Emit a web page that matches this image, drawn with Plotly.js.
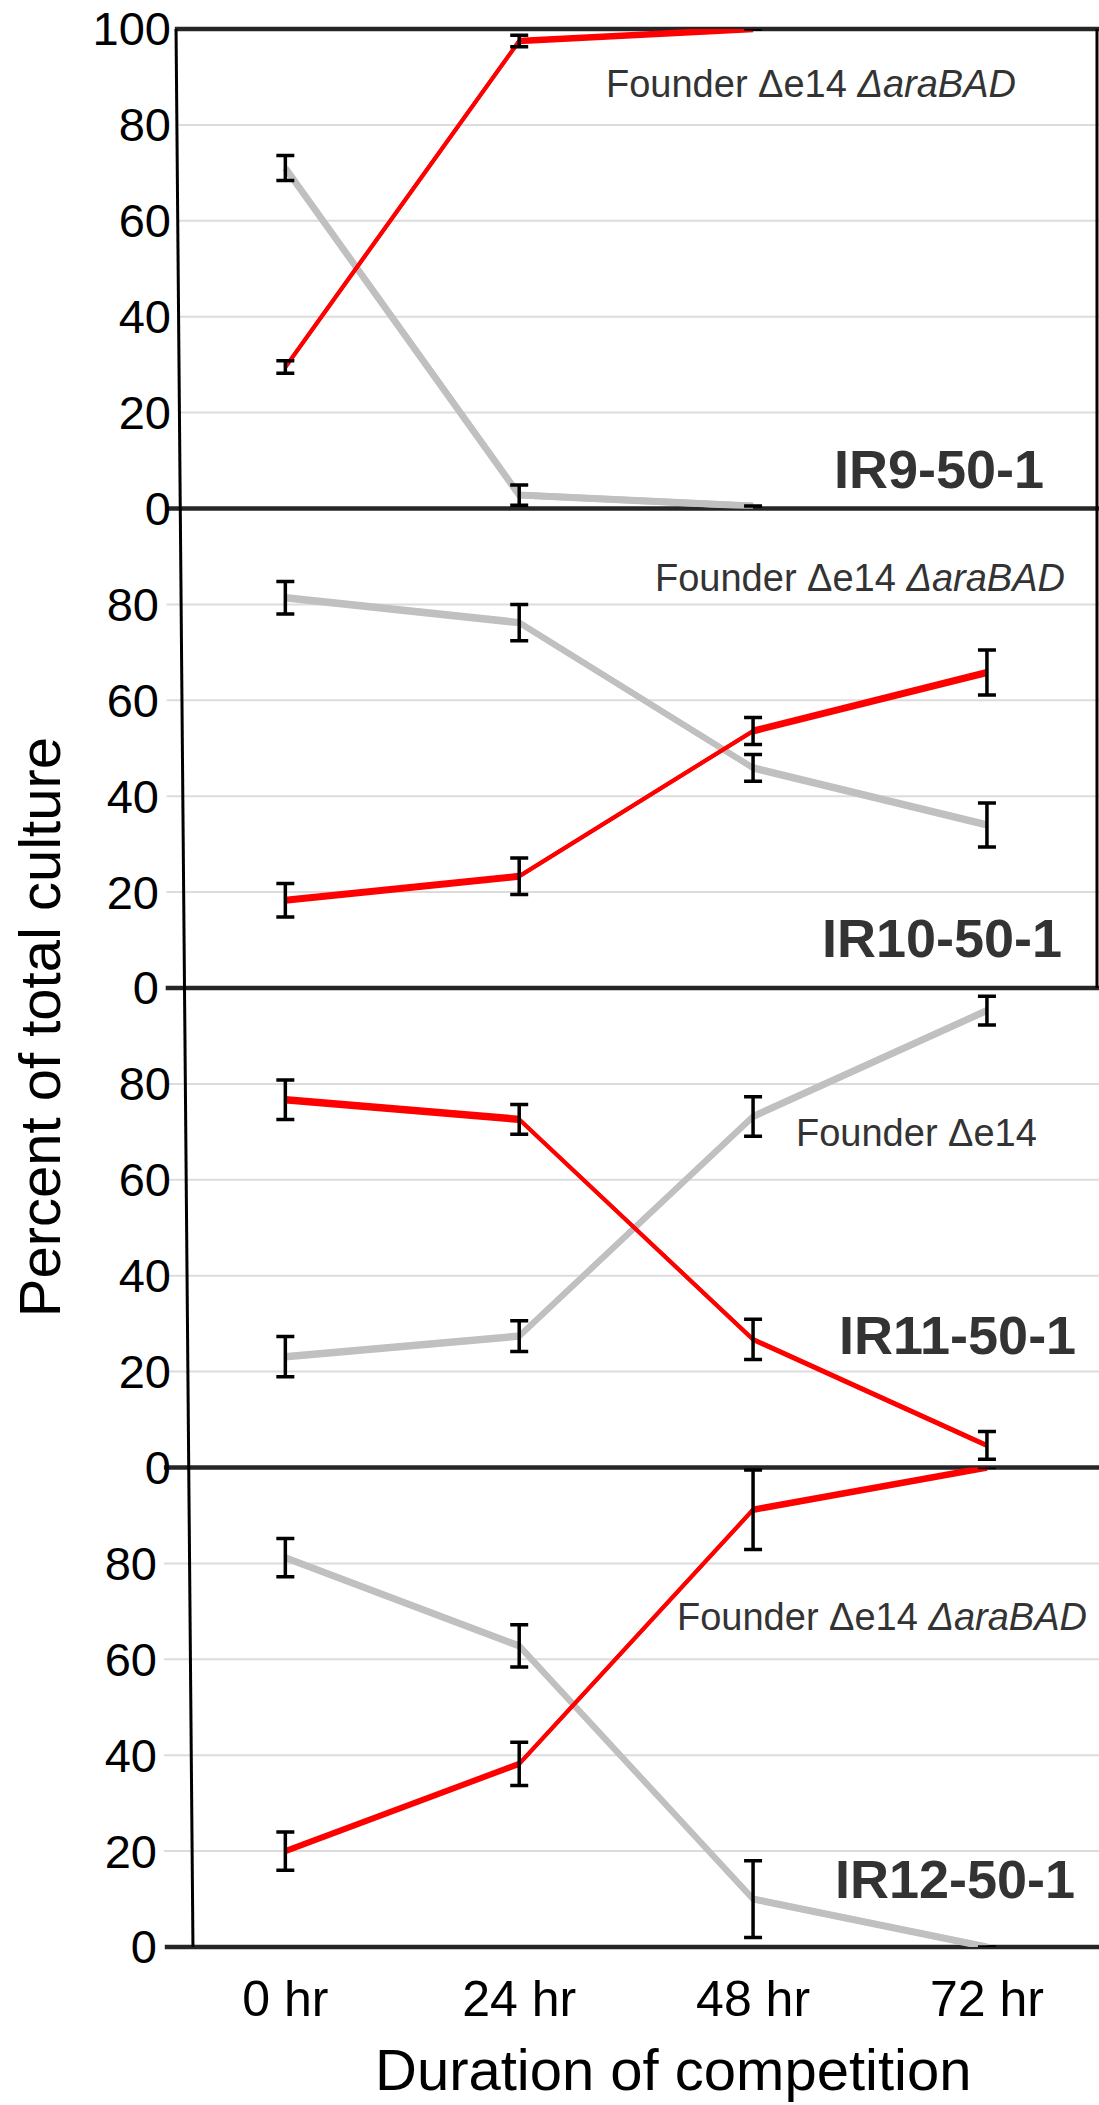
<!DOCTYPE html>
<html>
<head>
<meta charset="utf-8">
<script src="https://cdn.plot.ly/plotly-3.0.1.min.js"></script>
<style>html,body{margin:0;padding:0;background:#fff;}#chart{width:1099px;height:2105px;}</style>
</head>
<body>
<div id="chart"></div>
<script>
// ---- data ----
const times = [0, 24, 48, 72];
const timeLabels = ['0 hr', '24 hr', '48 hr', '72 hr'];
const panelNames = ['IR9-50-1', 'IR10-50-1', 'IR11-50-1', 'IR12-50-1'];
const founderLabels = ['Founder Δe14 <i>ΔaraBAD</i>', 'Founder Δe14 <i>ΔaraBAD</i>', 'Founder Δe14', 'Founder Δe14 <i>ΔaraBAD</i>'];

// evolved strain (red)
const ir9Red = [29.5, 97.5, 100, null];
const ir9RedErr = [1.3, 1.2, null, null];
const ir10Red = [18.3, 23.3, 53.6, 65.8];
const ir10RedErr = [3.5, 3.8, 2.8, 4.7];
const ir11Red = [76.7, 72.6, 26.7, 4.6];
const ir11RedErr = [4.1, 3.1, 4.2, 2.9];
const ir12Red = [20.0, 38.2, 91.2, 100];
const ir12RedErr = [4.0, 4.5, 8.3, null];

// founder (grey)
const ir9Grey = [71.0, 2.8, 0.5, null];
const ir9GreyErr = [2.6, 2.1, null, null];
const ir10Grey = [81.4, 76.2, 45.9, 34.0];
const ir10GreyErr = [3.4, 3.8, 2.8, 4.6];
const ir11Grey = [23.1, 27.4, 73.2, 95.3];
const ir11GreyErr = [4.2, 3.2, 4.1, 3.0];
const ir12Grey = [81.2, 62.8, 10.0, 0];
const ir12GreyErr = [4.0, 4.4, 8.0, null];

const yTicksTop = [0, 20, 40, 60, 80, 100];
const yTicks = [0, 20, 40, 60, 80];
const gridVals = [20, 40, 60, 80];

// ---- styles ----
const FONT = 'Liberation Sans, Arial, Helvetica, sans-serif';
// stroke width of each line segment (the source image draws flat segments thicker)
const redSegWidth = [[4, 6.5], [7, 4, 7], [7.5, 4, 5], [6, 4, 6.5]];
const greySegWidth = [[6.5, 7], [7.5, 6, 7.5], [7.5, 6, 7], [7, 6, 7]];

// ---- build ----
const reds = [ir9Red, ir10Red, ir11Red, ir12Red];
const redErrs = [ir9RedErr, ir10RedErr, ir11RedErr, ir12RedErr];
const greys = [ir9Grey, ir10Grey, ir11Grey, ir12Grey];
const greyErrs = [ir9GreyErr, ir10GreyErr, ir11GreyErr, ir12GreyErr];
const yIds = ['y', 'y2', 'y3', 'y4'];

function segmentTraces(vals, widths, color, yId) {
  const out = [];
  // base line with the thinnest width so the joins stay continuous
  out.push({x: times, y: vals, xaxis: 'x', yaxis: yId, mode: 'lines',
    line: {color: color, width: Math.min(...widths)}, hoverinfo: 'skip'});
  for (let k = 0; k < widths.length; k++) {
    out.push({x: times.slice(k, k + 2), y: vals.slice(k, k + 2), xaxis: 'x', yaxis: yId, mode: 'lines',
      line: {color: color, width: widths[k]}, hoverinfo: 'skip'});
  }
  return out;
}

const traces = [];
for (let i = 0; i < 4; i++) {
  traces.push(...segmentTraces(greys[i], greySegWidth[i], '#c0c0c0', yIds[i]));
  traces.push(...segmentTraces(reds[i], redSegWidth[i], '#ff0000', yIds[i]));
}
for (let i = 0; i < 4; i++) {
  [[greys[i], greyErrs[i]], [reds[i], redErrs[i]]].forEach(([vals, errs]) => {
    traces.push({x: times, y: vals, xaxis: 'x', yaxis: yIds[i], mode: 'markers',
      marker: {size: 1, color: 'rgba(0,0,0,0)'}, hoverinfo: 'skip',
      error_y: {type: 'data', array: errs, visible: true, color: '#000', thickness: 3.5, width: 9}});
  });
}

const domains = [[0.75, 1], [0.5, 0.75], [0.25, 0.5], [0, 0.25]];
const standoffs = [12, 24, 12, 26];
const layout = {
  width: 1099, height: 2105,
  margin: {l: 184, r: 0, t: 29, b: 158},
  paper_bgcolor: '#fff', plot_bgcolor: 'rgba(0,0,0,0)',
  showlegend: false, hovermode: false,
  font: {family: FONT, color: '#000'},
  xaxis: {range: [-10.4, 83.5], tickvals: times, ticktext: timeLabels, anchor: 'y4',
    showgrid: false, zeroline: false, showline: false, ticks: '',
    tickfont: {size: 50, family: FONT, color: '#000'}, ticklabelstandoff: 18},
  shapes: [], annotations: []
};
for (let i = 0; i < 4; i++) {
  const key = i === 0 ? 'yaxis' : 'yaxis' + (i + 1);
  layout[key] = {domain: domains[i], range: [0, 100], anchor: 'x',
    tickvals: i === 0 ? yTicksTop : yTicks,
    showgrid: false, zeroline: false, showline: false, ticks: '',
    tickfont: {size: 47, family: FONT, color: '#000'}, ticklabelstandoff: standoffs[i]};
}
// light gridlines
const gridStart = [-0.006, -0.019, -0.018, -0.022];
for (let i = 0; i < 4; i++) {
  gridVals.forEach(v => layout.shapes.push({type: 'line', layer: 'below', xref: 'paper', yref: yIds[i],
    x0: gridStart[i], x1: 1, y0: v, y1: v, line: {color: '#dcdcdc', width: 2}}));
}
// dark panel boundary lines
const boundaryLines = [
  ['y', 1, -0.010], ['y', 0, -0.020], ['y2', 0, -0.020], ['y3', 0, -0.022], ['y4', 0, -0.021]
];
boundaryLines.forEach(([ax, pos, x0]) => layout.shapes.push({type: 'line', layer: 'below', xref: 'paper',
  yref: ax + ' domain', x0: x0, x1: 1, y0: pos, y1: pos, line: {color: '#262626', width: 4.5}}));
// slanted left axis line and right border of top two panels
layout.shapes.push({type: 'line', layer: 'below', xref: 'paper', yref: 'paper',
  x0: -0.0087, y0: 1, x1: 0.0098, y1: 0, line: {color: '#000', width: 3}});
layout.shapes.push({type: 'line', layer: 'below', xref: 'paper', yref: 'paper',
  x0: 0.9978, y0: 1, x1: 0.9978, y1: 0.5, line: {color: '#000', width: 3}});

// panel labels
const founderPos = [[0.685, 0.9713], [0.739, 0.7138], [0.801, 0.4244], [0.763, 0.1721]];
const namePos = [[0.825, 0.7706], [0.828, 0.5261], [0.845, 0.3191], [0.843, 0.0355]];
for (let i = 0; i < 4; i++) {
  layout.annotations.push({xref: 'paper', yref: 'paper', x: founderPos[i][0], y: founderPos[i][1],
    text: founderLabels[i], showarrow: false, xanchor: 'center', yanchor: 'middle',
    font: {size: 38, family: FONT, color: '#333'}});
  layout.annotations.push({xref: 'paper', yref: 'paper', x: namePos[i][0], y: namePos[i][1],
    text: '<b>' + panelNames[i] + '</b>', showarrow: false, xanchor: 'center', yanchor: 'middle',
    font: {size: 54, family: FONT, color: '#333'}});
}
// axis titles
layout.annotations.push({xref: 'paper', yref: 'paper', x: -0.157, y: 0.4797, textangle: -90,
  text: 'Percent of total culture', showarrow: false, xanchor: 'center', yanchor: 'middle',
  font: {size: 58, family: FONT, color: '#000'}});
layout.annotations.push({xref: 'paper', yref: 'paper', x: 0.534, y: -0.0641,
  text: 'Duration of competition', showarrow: false, xanchor: 'center', yanchor: 'middle',
  font: {size: 58, family: FONT, color: '#000'}});

Plotly.newPlot('chart', traces, layout, {staticPlot: true, displayModeBar: false});
</script>
</body>
</html>
